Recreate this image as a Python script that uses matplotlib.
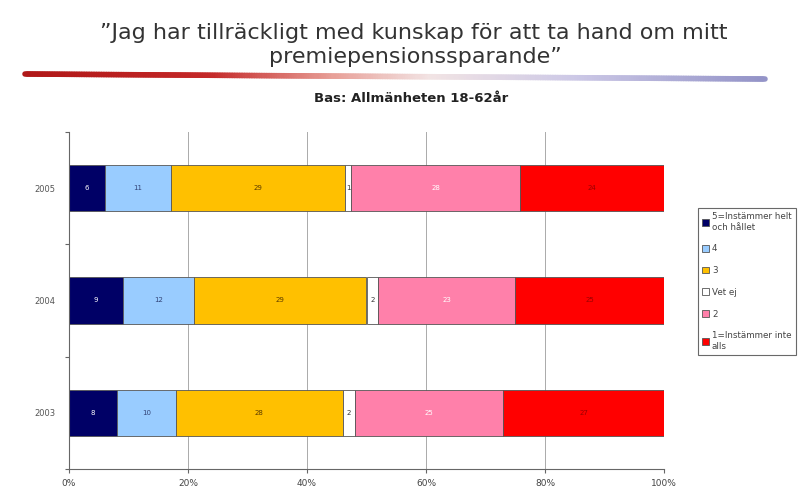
import matplotlib
matplotlib.use("Agg")
import matplotlib.pyplot as plt
import numpy as np
from matplotlib.patches import Patch
from matplotlib.collections import LineCollection
from matplotlib.colors import LinearSegmentedColormap

years = ["2005", "2004", "2003"]
series_names = ["5=Instämmer helt\noch hållet", "4", "3", "Vet ej", "2", "1=Instämmer inte\nalls"]
values = {
    "5": [6, 9, 8],
    "4": [11, 12, 10],
    "3": [29, 29, 28],
    "Vet ej": [1, 2, 2],
    "2": [28, 23, 25],
    "1": [24, 25, 27],
}
series_keys = ["5", "4", "3", "Vet ej", "2", "1"]
colors = ["#000066", "#99CCFF", "#FFC000", "#FFFFFF", "#FF80AA", "#FF0000"]
label_colors = ["#ffffff", "#334477", "#5a3a00", "#333333", "#ffffff", "#990000"]
xticks = [0, 20, 40, 60, 80, 100]
xtick_labels = ["0%", "20%", "40%", "60%", "80%", "100%"]

fig = plt.figure(figsize=(8.1, 4.92), dpi=100)
W, H = 810, 492

# Overlay in pixel coordinates for the title block
over = fig.add_axes([0, 0, 1, 1], zorder=-1)
over.set_xlim(0, W)
over.set_ylim(H, 0)
over.axis("off")
over.patch.set_alpha(0)

over.text(414, 33, "\u201dJag har tillräckligt med kunskap för att ta hand om mitt",
          ha="center", va="center", fontsize=16, color="#333333")
over.text(415, 57, "premiepensionssparande\u201d",
          ha="center", va="center", fontsize=16, color="#333333")
over.text(411, 99, "Bas: Allmänheten 18-62år",
          ha="center", va="center", fontsize=9.5, fontweight="bold", color="#222222")

# Gradient rule under the title
n = 300
xs = np.linspace(25, 765, n + 1)
ys = np.linspace(74, 79, n + 1)
segs = [[(xs[i], ys[i]), (xs[i + 1], ys[i + 1])] for i in range(n)]
cmap = LinearSegmentedColormap.from_list(
    "rule", [(0.0, "#b01818"), (0.25, "#c42828"), (0.42, "#e8a098"),
             (0.55, "#f2e4e4"), (0.75, "#ccc8e6"), (1.0, "#9494c8")])
lc = LineCollection(segs, colors=cmap(np.linspace(0, 1, n)), linewidths=4,
                    capstyle="round", antialiaseds=True)
over.add_collection(lc)

# Stacked 100% bar chart
ax = fig.add_axes([69 / W, 1 - 469 / H, 595 / W, 337 / H])
ypos = np.arange(len(years))
totals = np.sum([values[k] for k in series_keys], axis=0).astype(float)
left = np.zeros(len(years))
for key, col, lcol in zip(series_keys, colors, label_colors):
    raw = np.array(values[key], dtype=float)
    share = raw / totals * 100
    ax.barh(ypos, share, left=left, height=0.41, color=col,
            edgecolor="#555555", linewidth=0.6)
    for y, v, s, l in zip(ypos, raw, share, left):
        ax.text(l + s / 2, y, f"{int(v)}", ha="center", va="center",
                fontsize=5, color=lcol)
    left += share

ax.set_xlim(0, 100)
ax.set_ylim(2.5, -0.5)
ax.set_yticks([-0.5, 0.5, 1.5, 2.5])
ax.set_yticklabels([])
ax.set_yticks(ypos, minor=True)
ax.set_yticklabels(years, minor=True, fontsize=6, color="#555555")
ax.tick_params(axis="y", which="minor", length=0, pad=10)
ax.tick_params(axis="y", which="major", length=3, color="#666666")
ax.set_xticks(xticks)
ax.set_xticklabels(xtick_labels, fontsize=6.5, color="#444444")
ax.tick_params(axis="x", length=3, color="#666666", pad=4)
ax.xaxis.grid(True, color="#aaaaaa", linewidth=0.7)
ax.set_axisbelow(True)
for side in ["top", "right"]:
    ax.spines[side].set_visible(False)
ax.spines["left"].set_color("#666666")
ax.spines["bottom"].set_color("#666666")

handles = [Patch(facecolor=c, edgecolor="#555555", linewidth=0.6) for c in colors]
leg = fig.legend(handles, series_names, loc="upper left",
                 bbox_to_anchor=(698 / W, 1 - 208 / H), fontsize=6.3,
                 handlelength=0.8, handleheight=0.8, handletextpad=0.3,
                 labelspacing=1.45, borderpad=0.5, borderaxespad=0,
                 frameon=True, fancybox=False, edgecolor="#444444")
leg.get_frame().set_linewidth(0.8)
for t in leg.get_texts():
    t.set_color("#444444")

fig.savefig("out.png", dpi=100)
